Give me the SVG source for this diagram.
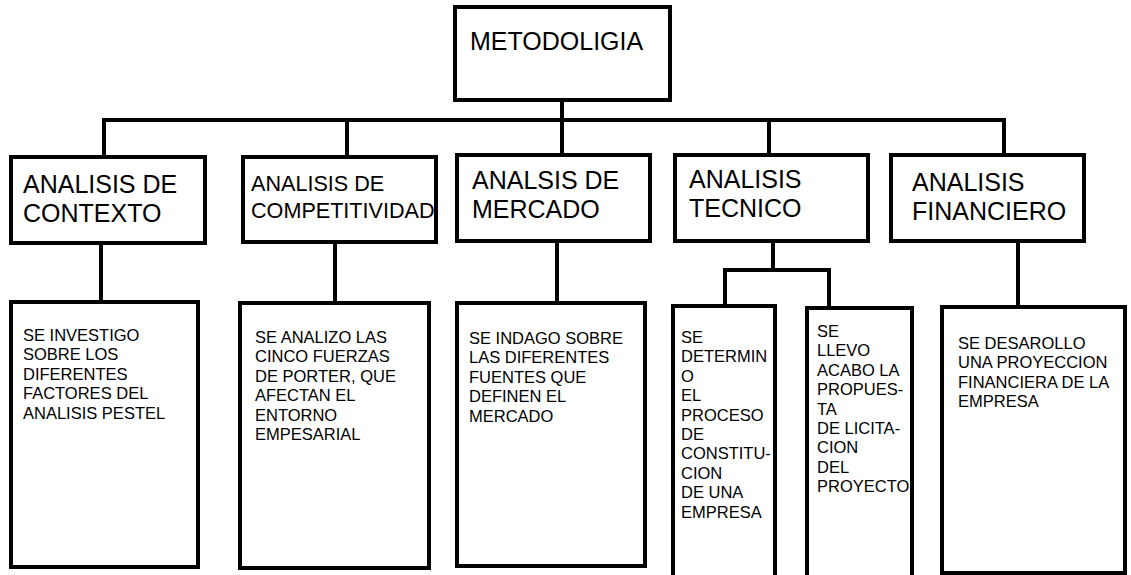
<svg xmlns="http://www.w3.org/2000/svg" width="1131" height="575" viewBox="0 0 1131 575">
<style>
rect{fill:#fff;stroke:#000;stroke-width:4}
.c line{stroke:#000;stroke-width:4;stroke-linecap:square}
text{font-family:"Liberation Sans",Arial,sans-serif;fill:#000}
.h{font-size:25px}
.h2{font-size:21.6px}
.b{font-size:16.5px}
</style>
<rect width="1131" height="575" style="fill:#fff;stroke:none"/>
<g class="c" id="connectors">
<line x1="562" y1="100" x2="562" y2="155"/>
<line x1="104" y1="120" x2="1004" y2="120"/>
<line x1="104" y1="120" x2="104" y2="157"/>
<line x1="347" y1="120" x2="347" y2="157"/>
<line x1="769" y1="120" x2="769" y2="155"/>
<line x1="1004" y1="120" x2="1004" y2="155"/>
<line x1="101" y1="243" x2="101" y2="302"/>
<line x1="335" y1="242" x2="335" y2="303"/>
<line x1="557" y1="241" x2="557" y2="303"/>
<line x1="1018" y1="241" x2="1018" y2="307"/>
<line x1="773" y1="241" x2="773" y2="270"/>
<line x1="725" y1="270" x2="829" y2="270"/>
<line x1="725" y1="270" x2="725" y2="306"/>
<line x1="829" y1="270" x2="829" y2="308"/>
</g>
<g id="metodologia"><rect x="455" y="7" width="215" height="93"/><text class="h" x="470" y="50">METODOLIGIA</text></g>
<g id="contexto"><rect x="11" y="157" width="194" height="86"/><text class="h" x="23" y="193">ANALISIS DE</text><text class="h" x="23" y="222">CONTEXTO</text></g>
<g id="competitividad"><rect x="243" y="157" width="193" height="85"/><text class="h2" x="251" y="191">ANALISIS DE</text><text class="h2" x="251" y="218">COMPETITIVIDAD</text></g>
<g id="mercado"><rect x="457" y="155" width="193" height="86"/><text class="h" x="472" y="189">ANALSIS DE</text><text class="h" x="472" y="218">MERCADO</text></g>
<g id="tecnico"><rect x="675" y="155" width="193" height="86"/><text class="h" x="689" y="188">ANALISIS</text><text class="h" x="689" y="217">TECNICO</text></g>
<g id="financiero"><rect x="891" y="155" width="193" height="86"/><text class="h" x="912" y="191">ANALISIS</text><text class="h" x="912" y="220">FINANCIERO</text></g>
<g id="d-contexto"><rect x="11" y="302" width="187" height="265"/><text class="b" x="23" y="341"><tspan x="23">SE INVESTIGO</tspan><tspan x="23" dy="19.4">SOBRE LOS</tspan><tspan x="23" dy="19.4">DIFERENTES</tspan><tspan x="23" dy="19.4">FACTORES DEL</tspan><tspan x="23" dy="19.4">ANALISIS PESTEL</tspan></text></g>
<g id="d-competitividad"><rect x="240" y="303" width="189" height="265"/><text class="b" x="255" y="343"><tspan x="255">SE ANALIZO LAS</tspan><tspan x="255" dy="19.4">CINCO FUERZAS</tspan><tspan x="255" dy="19.4">DE PORTER, QUE</tspan><tspan x="255" dy="19.4">AFECTAN EL</tspan><tspan x="255" dy="19.4">ENTORNO</tspan><tspan x="255" dy="19.4">EMPESARIAL</tspan></text></g>
<g id="d-mercado"><rect x="457" y="303" width="188" height="263"/><text class="b" x="469" y="344"><tspan x="469">SE INDAGO SOBRE</tspan><tspan x="469" dy="19.4">LAS DIFERENTES</tspan><tspan x="469" dy="19.4">FUENTES QUE</tspan><tspan x="469" dy="19.4">DEFINEN EL</tspan><tspan x="469" dy="19.4">MERCADO</tspan></text></g>
<g id="d-tecnico-1"><rect x="673" y="306" width="102" height="272"/><text class="b" x="681" y="343"><tspan x="681">SE</tspan><tspan x="681" dy="19.4">DETERMIN</tspan><tspan x="681" dy="19.4">O</tspan><tspan x="681" dy="19.4">EL</tspan><tspan x="681" dy="19.4">PROCESO</tspan><tspan x="681" dy="19.4">DE</tspan><tspan x="681" dy="19.4">CONSTITU-</tspan><tspan x="681" dy="19.4">CION</tspan><tspan x="681" dy="19.4">DE UNA</tspan><tspan x="681" dy="19.4">EMPRESA</tspan></text></g>
<g id="d-tecnico-2"><rect x="807" y="308" width="105" height="270"/><text class="b" x="817" y="337"><tspan x="817">SE</tspan><tspan x="817" dy="19.4">LLEVO</tspan><tspan x="817" dy="19.4">ACABO LA</tspan><tspan x="817" dy="19.4">PROPUES-</tspan><tspan x="817" dy="19.4">TA</tspan><tspan x="817" dy="19.4">DE LICITA-</tspan><tspan x="817" dy="19.4">CION</tspan><tspan x="817" dy="19.4">DEL</tspan><tspan x="817" dy="19.4">PROYECTO</tspan></text></g>
<g id="d-financiero"><rect x="942" y="307" width="183" height="266"/><text class="b" x="958" y="349"><tspan x="958">SE DESAROLLO</tspan><tspan x="958" dy="19.4">UNA PROYECCION</tspan><tspan x="958" dy="19.4">FINANCIERA DE LA</tspan><tspan x="958" dy="19.4">EMPRESA</tspan></text></g>
</svg>
